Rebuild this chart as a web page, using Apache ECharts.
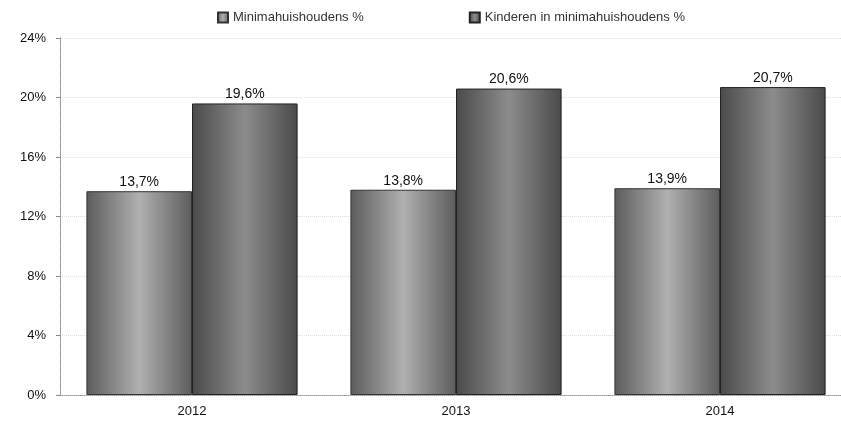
<!DOCTYPE html>
<html>
<head>
<meta charset="utf-8">
<script src="https://cdn.jsdelivr.net/npm/echarts@6/dist/echarts.min.js"></script>
<style>
  html, body { margin: 0; padding: 0; background: #fff; overflow: hidden; }
  /* het origineel is rechts afgesneden: iets breder tekenen */
  #chart { width: 852px; height: 423px; }
</style>
</head>
<body>
<div id="chart"></div>
<script>
  const years = ['2012', '2013', '2014'];
  const minima = [13.7, 13.8, 13.9];
  const kinderen = [19.6, 20.6, 20.7];
  const seriesNames = ['Minimahuishoudens %', 'Kinderen in minimahuishoudens %'];

  const chart = echarts.init(document.getElementById('chart'));

  // grijze "scan"-textuur benaderen met een verloop
  const grad = (edge, mid) => new echarts.graphic.LinearGradient(0, 0, 1, 0, [
    { offset: 0, color: edge },
    { offset: 0.5, color: mid },
    { offset: 1, color: edge }
  ]);

  const label = {
    show: true,
    position: 'top',
    distance: 2,
    color: '#111',
    fontFamily: 'Liberation Sans, Arial, sans-serif',
    fontSize: 14,
    formatter: p => p.value.toFixed(1).replace('.', ',') + '%'
  };

  const option = {
    animation: false,
    textStyle: { fontFamily: 'Liberation Sans, Arial, sans-serif' },
    legend: {
      top: 6,
      left: 212,
      itemGap: 105,
      itemWidth: 10,
      itemHeight: 10,
      icon: 'rect',
      textStyle: { color: '#333', fontSize: 13 },
      data: seriesNames
    },
    grid: { left: 60, top: 38, right: 0, bottom: 28 },
    xAxis: {
      type: 'category',
      data: years,
      axisLine: { lineStyle: { color: '#999', type: 'dotted' } },
      axisTick: { show: false },
      axisLabel: { color: '#111', fontSize: 13, margin: 10 }
    },
    yAxis: {
      type: 'value',
      min: 0,
      max: 24,
      interval: 4,
      axisLine: { show: true, lineStyle: { color: '#888', type: 'dotted' } },
      axisTick: { show: true, length: 4, lineStyle: { color: '#888' } },
      axisLabel: { color: '#111', fontSize: 13, margin: 14, formatter: '{value}%' },
      splitLine: { show: true, lineStyle: { color: '#ddd', type: 'dotted' } }
    },
    series: [
      {
        name: seriesNames[0],
        type: 'bar',
        data: minima,
        barGap: '0%',
        barCategoryGap: '20%',
        itemStyle: { color: grad('#5c5c5c', '#b0b0b0'), borderColor: '#333', borderWidth: 1 },
        label
      },
      {
        name: seriesNames[1],
        type: 'bar',
        data: kinderen,
        itemStyle: { color: grad('#4a4a4a', '#8c8c8c'), borderColor: '#222', borderWidth: 1 },
        label
      }
    ]
  };

  chart.setOption(option);
</script>
</body>
</html>
